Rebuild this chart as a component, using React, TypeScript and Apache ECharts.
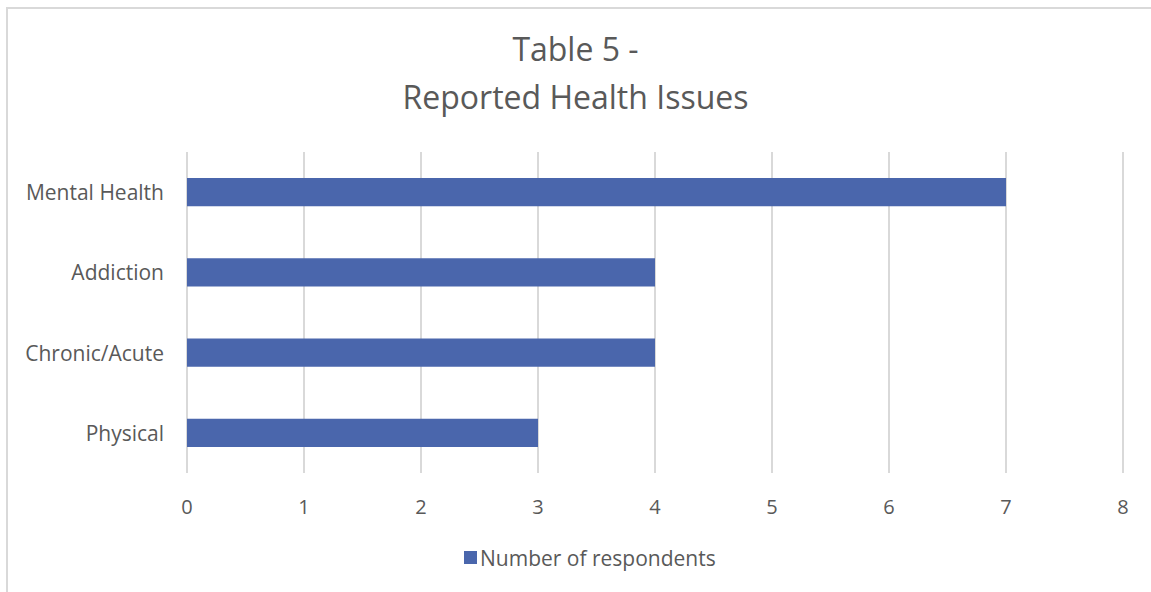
import React, { useEffect, useRef } from "react";
import * as echarts from "echarts";

const categories = ["Mental Health", "Addiction", "Chronic/Acute", "Physical"];
const respondents = [7, 4, 4, 3];
const xTicks = { min: 0, max: 8, interval: 1 };
const seriesName = "Number of respondents";
const titleText = "Table 5 -\nReported Health Issues";

export default function App() {
  const ref = useRef<HTMLDivElement>(null);
  useEffect(() => {
    if (!ref.current) return;
    const chart = echarts.init(ref.current, undefined, { renderer: "svg" });
    const font = "'Open Sans', 'Noto Sans', sans-serif";
    chart.setOption({
      animation: false,
      backgroundColor: "#ffffff",
      textStyle: { fontFamily: font },
      graphic: [
        {
          type: "rect",
          shape: { x: 7, y: 8, width: 1160, height: 600 },
          style: { fill: "none", stroke: "#d9d9d9", lineWidth: 2 },
          silent: true,
        },
      ],
      title: {
        text: titleText,
        left: "center",
        top: 19,
        textStyle: {
          fontFamily: font,
          fontSize: 32,
          fontWeight: "normal",
          color: "#595959",
          lineHeight: 48,
        },
      },
      legend: {
        data: [seriesName],
        left: 459,
        top: 542,
        itemWidth: 13,
        itemHeight: 13,
        itemGap: 6,
        icon: "rect",
        textStyle: { fontFamily: font, fontSize: 21, color: "#595959", padding: [0, 0, 0, -2] },
      },
      grid: { left: 187, right: 28, top: 152, bottom: 119, containLabel: false },
      xAxis: {
        type: "value",
        min: xTicks.min,
        max: xTicks.max,
        interval: xTicks.interval,
        axisLine: { show: false },
        axisTick: { show: false },
        axisLabel: { fontFamily: font, fontSize: 20, color: "#595959", margin: 23 },
        splitLine: { show: true, lineStyle: { color: "#d9d9d9", width: 2 } },
      },
      yAxis: {
        type: "category",
        data: categories,
        inverse: true,
        axisLine: { show: false },
        axisTick: { show: false },
        axisLabel: { fontFamily: font, fontSize: 21, color: "#595959", margin: 23 },
      },
      series: [
        {
          name: seriesName,
          type: "bar",
          data: respondents,
          barWidth: "35%",
          itemStyle: { color: "#4a66ac" },
        },
      ],
    });
    return () => chart.dispose();
  }, []);
  return (
    <div
      ref={ref}
      style={{ position: "fixed", left: 0, top: 0, width: 1151, height: 592 }}
    />
  );
}
